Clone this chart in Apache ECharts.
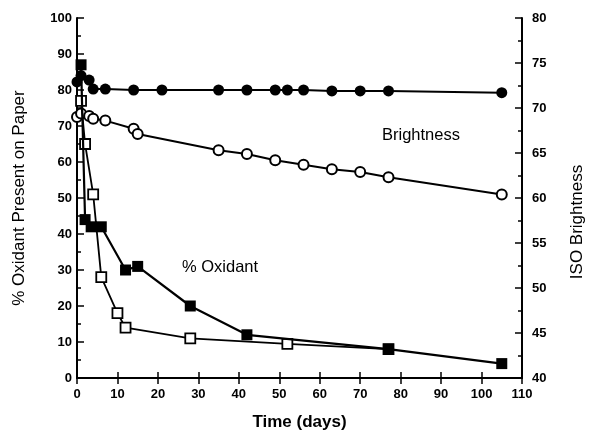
<!DOCTYPE html>
<html>
<head>
<meta charset="utf-8">
<script src="https://cdn.jsdelivr.net/npm/echarts@6/dist/echarts.min.js"></script>
<style>html,body{margin:0;padding:0;background:#fff}#c{width:589px;height:437px}</style>
</head>
<body>
<div id="c"></div>
<script>
// % Oxidant, filled squares
const oxFilledDays = [1, 2, 3.5, 6, 12, 15, 28, 42, 77, 105];
const oxFilledVals = [87, 44, 42, 42, 30, 31, 20, 12, 8, 4];
// % Oxidant, open squares
const oxOpenDays = [1, 2, 4, 6, 10, 12, 28, 52, 77];
const oxOpenVals = [77, 65, 51, 28, 18, 14, 11, 9.5, 8];
// Brightness, filled circles
const brFilledDays = [0, 1, 3, 4, 7, 14, 21, 35, 42, 49, 52, 56, 63, 70, 77, 105];
const brFilledVals = [72.9, 73.6, 73.1, 72.1, 72.1, 72.0, 72.0, 72.0, 72.0, 72.0, 72.0, 72.0, 71.9, 71.9, 71.9, 71.7];
// Brightness, open circles
const brOpenDays = [0, 1, 3, 4, 7, 14, 15, 35, 42, 49, 56, 63, 70, 77, 105];
const brOpenVals = [69.0, 69.4, 69.1, 68.8, 68.6, 67.7, 67.1, 65.3, 64.9, 64.2, 63.7, 63.2, 62.9, 62.3, 60.4];

const xTicks = {min: 0, max: 110, interval: 10};
const yLeft = {min: 0, max: 100, interval: 10};
const yRight = {min: 40, max: 80, interval: 5};

const zip = (a, b) => a.map((v, i) => [v, b[i]]);
const font = 'Liberation Sans, Arial, sans-serif';
const lbl = {color: '#000', fontFamily: font, fontWeight: 'bold', fontSize: 13};

const chart = echarts.init(document.getElementById('c'), null, {renderer: 'canvas'});
chart.setOption({
  animation: false,
  backgroundColor: '#fff',
  grid: {left: 77, right: 67, top: 18, bottom: 59, containLabel: false},
  xAxis: [{
    type: 'value', min: xTicks.min, max: xTicks.max, interval: xTicks.interval,
    axisLine: {show: true, onZero: false, lineStyle: {color: '#000', width: 2}},
    axisTick: {show: true, inside: true, length: 6, lineStyle: {color: '#000', width: 1.5}},
    axisLabel: Object.assign({margin: 10}, lbl),
    splitLine: {show: false},
    name: 'Time (days)', nameLocation: 'middle', nameGap: 36,
    nameTextStyle: {color: '#000', fontFamily: font, fontWeight: 'bold', fontSize: 17}
  }, {
    type: 'value', position: 'top', min: xTicks.min, max: xTicks.max, interval: xTicks.interval,
    axisLine: {show: true, lineStyle: {color: '#000', width: 2}},
    axisTick: {show: true, inside: true, length: 6, lineStyle: {color: '#000', width: 1.5}},
    axisLabel: {show: false}, splitLine: {show: false}
  }],
  yAxis: [{
    type: 'value', position: 'left', min: yLeft.min, max: yLeft.max, interval: yLeft.interval,
    axisLine: {show: true, onZero: false, lineStyle: {color: '#000', width: 2}},
    axisTick: {show: true, inside: true, length: 7, lineStyle: {color: '#000', width: 1.5}},
    minorTick: {show: true, splitNumber: 2, length: 4, lineStyle: {color: '#000', width: 1.5}},
    axisLabel: Object.assign({margin: 5}, lbl),
    splitLine: {show: false},
    name: '% Oxidant Present on Paper', nameLocation: 'middle', nameGap: 49, nameRotate: 90,
    nameTextStyle: {color: '#000', fontFamily: font, fontSize: 17}
  }, {
    type: 'value', position: 'right', min: yRight.min, max: yRight.max, interval: yRight.interval,
    axisLine: {show: true, onZero: false, lineStyle: {color: '#000', width: 2}},
    axisTick: {show: true, inside: true, length: 7, lineStyle: {color: '#000', width: 1.5}},
    minorTick: {show: true, splitNumber: 2, length: 4, lineStyle: {color: '#000', width: 1.5}},
    axisLabel: Object.assign({margin: 10}, lbl),
    splitLine: {show: false}
  }],
  series: [{
    type: 'line', yAxisIndex: 1, data: zip(brFilledDays, brFilledVals),
    symbol: 'circle', symbolSize: 11, lineStyle: {color: '#000', width: 2},
    itemStyle: {color: '#000'}, z: 3
  }, {
    type: 'line', yAxisIndex: 1, data: zip(brOpenDays, brOpenVals),
    symbol: 'circle', symbolSize: 10, showAllSymbol: true, lineStyle: {color: '#000', width: 2},
    itemStyle: {color: '#fff', borderColor: '#000', borderWidth: 2}, z: 3
  }, {
    type: 'line', yAxisIndex: 0, data: zip(oxOpenDays, oxOpenVals),
    symbol: 'rect', symbolSize: 10, lineStyle: {color: '#000', width: 1.8},
    itemStyle: {color: '#fff', borderColor: '#000', borderWidth: 1.8}, z: 4
  }, {
    type: 'line', yAxisIndex: 0, data: zip(oxFilledDays, oxFilledVals),
    symbol: 'rect', symbolSize: 11, lineStyle: {color: '#000', width: 2.2},
    itemStyle: {color: '#000'}, z: 5
  }],
  graphic: [{
    type: 'text', x: 577, y: 222, rotation: Math.PI / 2,
    style: {text: 'ISO Brightness', fill: '#000', font: '17px ' + font, textAlign: 'center', textVerticalAlign: 'middle'}
  }, {
    type: 'text', left: 382, top: 127,
    style: {text: 'Brightness', fill: '#000', font: '16.5px ' + font}
  }, {
    type: 'text', left: 182, top: 259,
    style: {text: '% Oxidant', fill: '#000', font: '16.5px ' + font}
  }]
});
</script>
</body>
</html>
